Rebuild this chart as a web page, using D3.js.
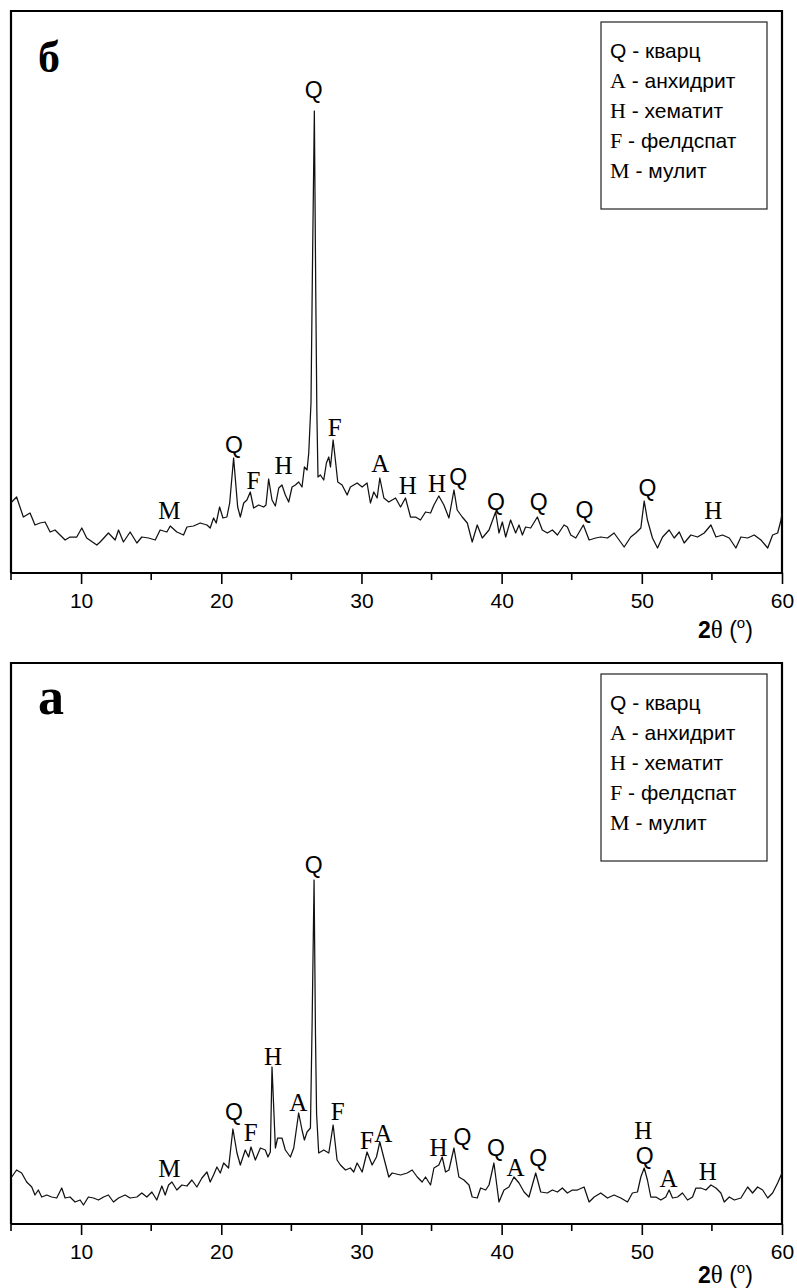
<!DOCTYPE html>
<html>
<head>
<meta charset="utf-8">
<script src="https://cdn.jsdelivr.net/npm/d3@7"></script>
<style>
  html, body { margin: 0; padding: 0; background: #fff; }
  svg { display: block; }
</style>
</head>
<body>
<svg id="chart" width="797" height="1288"></svg>
<script>
// XRD patterns, 2θ (degrees) vs. intensity (arbitrary units)
const twoThetaB = [5.05,5.40,5.88,6.36,6.71,7.07,7.43,7.79,8.14,8.50,8.86,9.21,9.69,10.05,10.40,11.12,11.36,11.95,12.43,12.67,13.02,13.50,13.98,14.33,14.81,15.29,15.64,16.12,16.36,16.83,17.31,17.55,18.02,18.50,18.98,19.21,19.45,19.64,19.88,20.12,20.40,20.60,20.88,21.17,21.36,21.60,21.83,22.07,22.31,22.67,23.02,23.19,23.38,23.62,23.86,24.10,24.33,24.57,24.81,25.05,25.29,25.52,25.76,25.93,26.12,26.24,26.40,26.50,26.64,26.74,26.82,26.90,27.07,27.31,27.50,27.67,27.79,27.98,28.14,28.31,28.62,28.98,29.21,29.69,30.05,30.40,30.64,30.88,31.12,31.31,31.60,31.95,32.43,32.79,33.14,33.50,33.86,34.21,34.57,34.93,35.17,35.52,35.88,36.24,36.60,36.83,37.19,37.55,37.90,38.26,38.62,39.10,39.57,39.81,40.05,40.29,40.64,41.00,41.24,41.48,41.71,42.07,42.55,42.90,43.26,43.62,43.98,44.45,44.69,44.93,45.29,45.83,46.24,46.71,47.07,47.55,48.02,48.38,48.74,49.21,49.57,49.93,50.17,50.40,50.76,51.12,51.48,51.95,52.31,52.67,53.02,53.50,53.98,54.45,54.93,55.29,55.76,56.24,56.71,57.07,57.55,58.02,58.50,58.98,59.33,59.69,59.93,60.00];
const intensityB = [71,76,56,60,48,50,51,41,43,38,33,36,36,45,35,28,31,40,33,43,31,41,30,36,35,33,43,41,47,41,38,46,47,50,48,45,55,50,66,55,56,70,115,66,56,70,73,81,65,68,66,68,94,73,67,85,88,78,71,86,88,91,86,106,103,120,170,300,462,280,160,96,98,93,110,116,106,133,113,91,88,78,86,90,86,90,70,81,75,95,75,71,75,66,75,56,56,53,61,60,68,77,68,55,83,63,56,50,31,48,35,43,61,40,51,36,53,40,48,38,46,45,56,43,40,43,38,48,46,38,35,48,33,35,36,35,40,33,26,36,40,45,72,53,35,25,36,43,35,41,30,38,36,40,48,36,38,35,25,36,35,38,33,25,38,40,53,60];

const twoThetaA = [5.05,5.40,5.76,6.12,6.48,6.71,6.95,7.19,7.55,7.90,8.26,8.62,8.86,9.21,9.57,9.93,10.17,10.52,10.88,11.24,11.60,11.95,12.31,12.67,13.14,13.50,13.98,14.33,14.69,15.05,15.40,15.76,16.00,16.24,16.48,16.83,17.19,17.55,17.90,18.26,18.62,18.98,19.21,19.45,19.69,19.93,20.17,20.52,20.83,21.12,21.36,21.71,21.95,22.12,22.43,22.79,23.14,23.33,23.50,23.62,23.86,24.02,24.33,24.57,24.93,25.17,25.52,25.76,25.93,26.12,26.36,26.48,26.62,26.72,26.80,26.95,27.31,27.67,27.98,28.26,28.50,28.86,29.21,29.45,29.69,30.05,30.40,30.76,31.07,31.31,31.60,31.95,32.19,32.79,33.26,33.62,33.98,34.33,34.57,34.93,35.17,35.52,35.76,36.00,36.24,36.60,36.95,37.31,37.67,37.90,38.26,38.50,38.86,39.10,39.45,39.81,40.17,40.52,40.88,41.24,41.60,41.95,42.43,42.79,43.26,43.62,43.98,44.33,44.69,45.05,45.40,45.88,46.24,46.60,47.07,47.55,48.02,48.50,48.98,49.33,49.69,49.93,50.17,50.40,50.64,51.00,51.36,51.71,51.95,52.19,52.55,52.90,53.26,53.62,53.86,54.21,54.57,54.93,55.29,55.64,55.88,56.24,56.60,57.07,57.55,57.90,58.26,58.62,58.98,59.33,59.69,60.00];
const intensityA = [47,54,51,42,37,29,34,27,29,27,26,36,26,27,22,24,19,27,26,24,27,29,22,26,29,26,27,31,27,32,24,38,29,39,42,34,39,38,44,37,46,52,42,49,57,51,61,56,95,71,59,74,67,77,64,76,74,67,72,157,76,86,86,74,67,76,111,94,84,92,96,200,344,190,110,71,74,71,99,64,59,54,56,52,61,52,72,59,67,82,66,47,51,49,51,54,47,42,47,39,56,59,67,52,54,76,47,44,39,27,26,36,34,39,61,22,34,37,47,41,32,27,51,32,31,34,32,36,31,34,34,37,22,27,31,26,29,26,22,31,32,47,56,44,27,27,24,27,34,26,27,31,24,27,36,36,34,39,36,31,22,27,24,26,37,31,37,34,26,31,41,51];

// Phase markers: symbol, 2θ and the intensity level where the letter sits
const phasesB = ["M","Q","F","H","Q","F","A","H","H","Q","Q","Q","Q","Q","H"];
const peakPosB = [16.3,20.9,22.3,24.45,26.6,28.1,31.35,33.3,35.4,36.9,39.6,42.65,45.9,50.4,55.1];
const labelLevelB = [63,128,93,108,483,146,110,88,90,96,71,71,63,85,63];

const phasesA = ["M","Q","F","H","A","Q","F","F","A","H","Q","Q","A","Q","H","Q","A","H"];
const peakPosA = [16.3,20.9,22.1,23.7,25.5,26.6,28.3,30.4,31.55,35.5,37.2,39.6,41.0,42.6,50.1,50.2,51.9,54.7];
const labelLevelA = [56,112,92,168,122,359,113,84,91,77,87,76,57,66,94,68,46,53];

// Legend entries
const legendSymbols = ["Q","A","H","F","M"];
const legendNames = ["кварц","анхидрит","хематит","фелдспат","мулит"];

const xMajorTicks = [10,20,30,40,50,60];
const xMinorTicks = [5,15,25,35,45,55];

const SANS = "'Liberation Sans', Arial, sans-serif";
const SERIF = "'Liberation Serif', 'Times New Roman', serif";

const svg = d3.select("#chart");

function drawPanel(cfg) {
  const left = 11, right = 782;
  const top = cfg.top, bottom = cfg.bottom;
  const g = svg.append("g");

  const x = d3.scaleLinear().domain([5, 60]).range([left, right]);
  const y = d3.scaleLinear().domain([0, bottom - top]).range([bottom, top]);

  // frame (left, top, right)
  g.append("path")
    .attr("d", `M${left},${bottom}V${top}H${right}V${bottom}`)
    .attr("fill", "none").attr("stroke", "#000").attr("stroke-width", 2.2);

  // x axis with minor ticks
  const axis = g.append("g").attr("transform", `translate(0,${bottom})`)
    .call(d3.axisBottom(x).tickValues(xMajorTicks).tickSize(11).tickPadding(9).tickFormat(d3.format("d")));
  axis.select(".domain").attr("stroke-width", 2.2).attr("d", `M${left},0H${right}`);
  axis.selectAll(".tick line").attr("stroke-width", 1.6);
  axis.selectAll(".tick text").attr("font-family", SANS).attr("font-size", 21).attr("fill", "#000");
  g.append("g").attr("transform", `translate(0,${bottom})`)
    .selectAll("line").data(xMinorTicks).join("line")
    .attr("x1", d => x(d)).attr("x2", d => x(d))
    .attr("y1", 0).attr("y2", 7)
    .attr("stroke", "#000").attr("stroke-width", 1.6);

  // axis title 2θ (°)
  const t = g.append("text").attr("x", 698).attr("y", bottom + cfg.titleOffset)
    .attr("font-family", SANS).attr("font-size", 23).attr("fill", "#000");
  t.append("tspan").attr("font-weight", "bold").text("2");
  t.append("tspan").attr("font-family", SERIF).attr("font-size", 25).text("θ");
  t.append("tspan").text(" (");
  t.append("tspan").attr("font-size", 15).attr("dy", -10).text("o");
  t.append("tspan").attr("dy", 10).text(")");

  // pattern
  const pts = cfg.tt.map((d, i) => [d, cfg.iv[i]]);
  g.append("path").datum(pts)
    .attr("d", d3.line().x(d => x(d[0])).y(d => y(d[1])))
    .attr("fill", "none").attr("stroke", "#111").attr("stroke-width", 1.25)
    .attr("stroke-linejoin", "round");

  // phase letters
  g.selectAll("text.phase").data(cfg.ph.map((p, i) => ({p, t: cfg.pos[i], v: cfg.lv[i]})))
    .join("text").attr("class", "phase")
    .attr("x", d => x(d.t)).attr("y", d => y(d.v))
    .attr("text-anchor", "middle").attr("dominant-baseline", "central")
    .attr("font-family", d => d.p === "Q" ? SANS : SERIF)
    .attr("font-size", d => d.p === "Q" ? 23 : 25)
    .attr("fill", "#000")
    .text(d => d.p);

  // panel letter
  g.append("text").attr("x", 38).attr("y", top + cfg.letterBase)
    .attr("font-family", SERIF).attr("font-weight", "bold").attr("font-size", cfg.letterSize)
    .attr("fill", "#000").text(cfg.letter);

  // legend box
  const lg = g.append("g").attr("transform", `translate(601,${top + 11})`);
  lg.append("rect").attr("width", 166).attr("height", 187)
    .attr("fill", "#fff").attr("stroke", "#222").attr("stroke-width", 1.2);
  legendSymbols.forEach((s, i) => {
    const tx = lg.append("text").attr("x", 9).attr("y", 28 + i * 30)
      .attr("dominant-baseline", "central").attr("font-family", SANS)
      .attr("font-size", 21).attr("fill", "#000");
    tx.append("tspan").attr("font-family", s === "Q" ? SANS : SERIF)
      .attr("font-size", s === "Q" ? 21 : 22).text(s);
    tx.append("tspan").text(" - " + legendNames[i]);
  });
}

drawPanel({top: 11, bottom: 573, letter: "б", tt: twoThetaB, iv: intensityB,
  ph: phasesB, pos: peakPosB, lv: labelLevelB, titleOffset: 65, letterBase: 61, letterSize: 44});
drawPanel({top: 663, bottom: 1224, letter: "а", tt: twoThetaA, iv: intensityA,
  ph: phasesA, pos: peakPosA, lv: labelLevelA, titleOffset: 59, letterBase: 51, letterSize: 52});
</script>
</body>
</html>
